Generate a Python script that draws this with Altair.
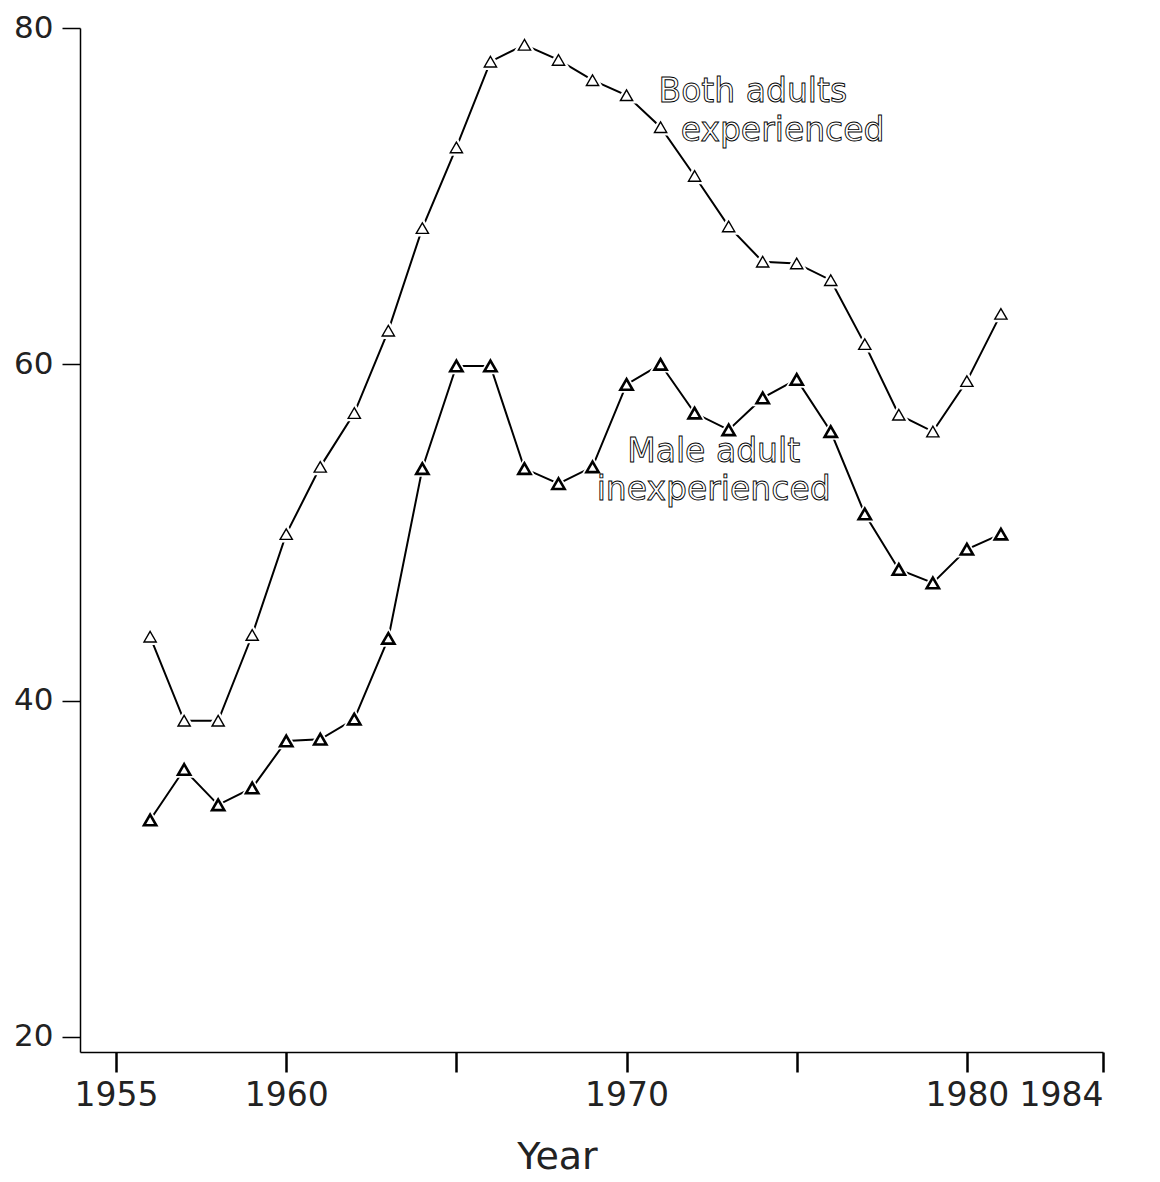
import altair as alt
import pandas as pd

years = list(range(1956, 1982))
both_experienced = [43.8, 38.8, 38.8, 43.9, 49.9, 53.9, 57.1, 62.0, 68.1, 72.9,
                    78.0, 79.0, 78.1, 76.9, 76.0, 74.1, 71.2, 68.2, 66.1, 66.0,
                    65.0, 61.2, 57.0, 56.0, 59.0, 63.0]
male_inexperienced = [32.9, 35.9, 33.8, 34.8, 37.6, 37.7, 38.9, 43.7, 53.8, 59.9,
                      59.9, 53.8, 52.9, 53.9, 58.8, 60.0, 57.1, 56.1, 58.0, 59.1,
                      56.0, 51.1, 47.8, 47.0, 49.0, 49.9]
x_ticks = [1955, 1960, 1965, 1970, 1975, 1980, 1984]
x_labelled = [1955, 1960, 1970, 1980, 1984]
y_ticks = [20, 40, 60, 80]

label_text = ["Both adults", "experienced", "Male adult", "inexperienced"]
label_year = [1970.94, 1971.59, 1972.56, 1972.56]
label_value = [75.6, 73.3, 54.2, 51.95]
label_align = ["left", "left", "center", "center"]

df = pd.DataFrame({
    "year": years * 2,
    "value": both_experienced + male_inexperienced,
    "series": ["Both adults experienced"] * len(years) + ["Male adult inexperienced"] * len(years),
})
labels = pd.DataFrame({"text": label_text, "year": label_year, "value": label_value,
                       "anchor": label_align})

FONT = "DejaVu Sans"
labelled_expr = "indexof([" + ",".join(str(v) for v in x_labelled) + "], datum.value) >= 0 ? datum.value : ''"

x = alt.X("year:Q", scale=alt.Scale(domain=[1953.94, 1984], nice=False, zero=False),
          axis=alt.Axis(values=x_ticks, labelExpr=labelled_expr, title="Year",
                        grid=False, tickSize=20, tickWidth=2.5, domainWidth=1.5,
                        labelFontSize=33, labelFont=FONT, labelPadding=7,
                        labelColor="#222", titleFont=FONT, titleFontSize=38,
                        titleFontWeight="normal", titleColor="#222",
                        titleX=477, titleY=116, titleBaseline="alphabetic"))
y = alt.Y("value:Q", scale=alt.Scale(domain=[19.1, 80], nice=False, zero=False),
          axis=alt.Axis(values=y_ticks, title=None, grid=False, tickSize=18,
                        tickWidth=1.5, domainWidth=1.5, labelFontSize=31,
                        labelFont=FONT, labelPadding=9, labelColor="#222"))

base = alt.Chart(df)
lines = base.mark_line(color="black", strokeWidth=2).encode(x=x, y=y, detail="series:N")
gaps = base.mark_point(shape="triangle-up", size=150, filled=True, fill="white",
                       stroke="white", strokeWidth=6, opacity=1).encode(x=x, y=y)
tri_top = alt.Chart(df[df["series"] == "Both adults experienced"]).mark_point(
    shape="triangle-up", size=150, filled=False, color="black", strokeWidth=1.4, opacity=1
).encode(x=x, y=y)
tri_bot = alt.Chart(df[df["series"] == "Male adult inexperienced"]).mark_point(
    shape="triangle-up", size=150, filled=False, color="black", strokeWidth=2.6, opacity=1
).encode(x=x, y=y)

left_labels = alt.Chart(labels[labels["anchor"] == "left"]).mark_text(
    font=FONT, fontSize=33, align="left", baseline="alphabetic",
    fill="white", stroke="black", strokeWidth=0.9
).encode(x=x, y=y, text="text:N")
center_labels = alt.Chart(labels[labels["anchor"] == "center"]).mark_text(
    font=FONT, fontSize=33, align="center", baseline="alphabetic",
    fill="white", stroke="black", strokeWidth=0.9
).encode(x=x, y=y, text="text:N")

chart = alt.layer(lines, gaps, tri_top, tri_bot, left_labels, center_labels).properties(
    width=1023, height=1024,
    autosize=alt.AutoSizeParams(type="none"),
    padding={"left": 72, "top": 20, "right": 40, "bottom": 126},
).configure_view(stroke=None).configure_axis(domainColor="black", tickColor="black")

chart.save("out.html", embed_options={"renderer": "svg", "actions": False})
